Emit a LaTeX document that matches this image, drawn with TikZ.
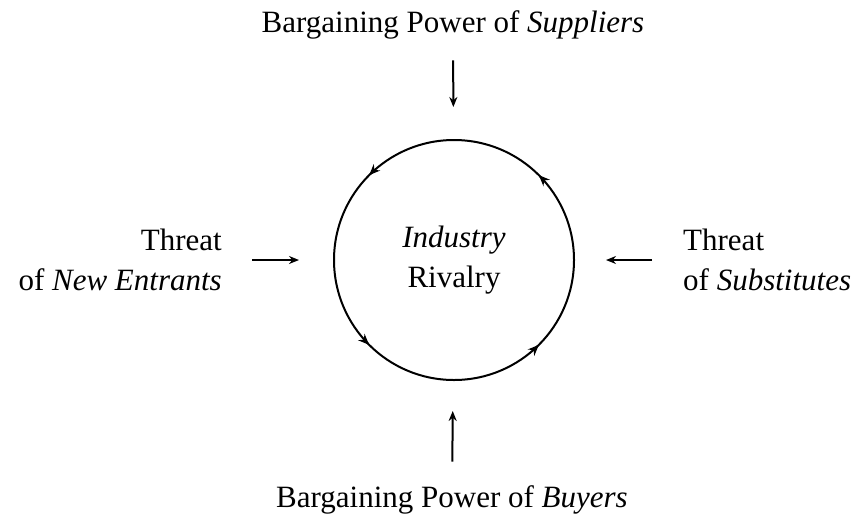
\documentclass[tikz,border=0pt]{standalone}
\usepackage{fontspec}
\setmainfont{Liberation Serif}
\usetikzlibrary{arrows.meta, decorations.markings}

\begin{document}
\begin{tikzpicture}[x = 1pt, y = -1pt, font = \fontsize{31}{40}\selectfont,
		force/.style = {-{Stealth[length=10pt, width=8pt]}, line width = 2pt},
		label/.style = {inner sep = 0pt}]
		\useasboundingbox (0,0) rectangle (854,523);
		% The circle
		\node[circle, draw, line width = 2pt, minimum size = 240pt, align = center,
			decoration = {markings, mark = between positions 0.125 and 0.875 step 0.25 with {\arrow{Stealth[length=11pt, width=9pt]}}},
			postaction = {decorate}] (rivalry) at (454,260) {\textit{Industry}\\Rivalry};
		% The forces
		\node[label] (suppliers) at (453,25) {Bargaining Power of \textit{Suppliers}};     % top
		\node[label] (buyers) at (452,500) {Bargaining Power of \textit{Buyers}};           % bottom
		\node[label, align = right, anchor = east] (entrants) at (222,260) {Threat\\of \textit{New Entrants}};   % left
		\node[label, align = left, anchor = west] (substitutes) at (683,260) {Threat\\of \textit{Substitutes}};  % right
		% Arrows
		\draw[force, shorten < = 21pt, shorten > = 32pt] (suppliers) -- (rivalry);
		\draw[force, shorten < = 24pt, shorten > = 30pt] (buyers) -- (rivalry);
		\draw[force, shorten < = 30pt, shorten > = 34pt] (entrants) -- (rivalry);
		\draw[force, shorten < = 31pt, shorten > = 31pt] (substitutes) -- (rivalry);
	\end{tikzpicture}
\end{document}
